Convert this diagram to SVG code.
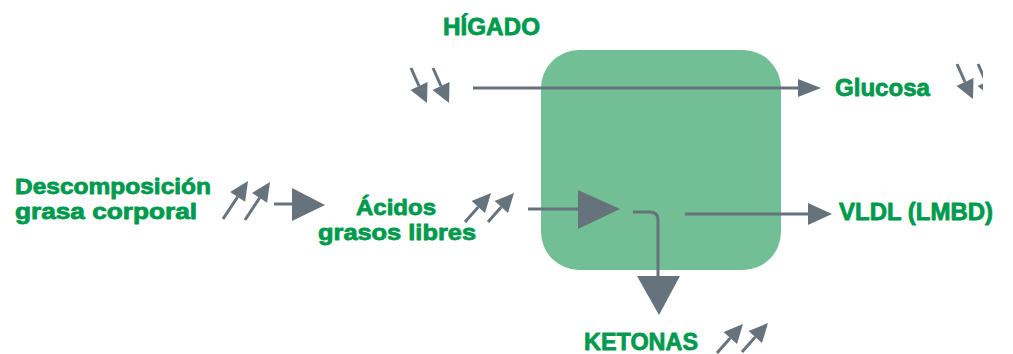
<svg xmlns="http://www.w3.org/2000/svg" width="1013" height="354" viewBox="0 0 1013 354">
<style>
.lbl{font-family:"Liberation Sans",Arial,sans-serif;font-weight:700;font-size:24px;fill:#009a4e;stroke:#009a4e;stroke-width:0.8;stroke-linejoin:round}
.two{font-size:21.5px}
.ln{stroke:#67737c;stroke-width:3;fill:none}
.hd{fill:#67737c;stroke:none}
.liver{fill:#73bf95}
</style>
<defs>
<g id="dn">
<line class="ln" x1="0" y1="0" x2="8" y2="18"/>
<polygon class="hd" points="-0.5,22 16.5,14 16,35"/>
</g>
<g id="upA">
<line class="ln" x1="0" y1="0" x2="14.6" y2="-22.1"/>
<polygon class="hd" points="7.1,-27 22.1,-17.2 25,-38"/>
</g>
<g id="upB">
<line class="ln" x1="0" y1="0" x2="13.3" y2="-14.9"/>
<polygon class="hd" points="6.6,-20.9 20,-8.9 26,-29"/>
</g>
<clipPath id="edge"><rect x="0" y="0" width="983" height="354"/></clipPath>
</defs>

<g id="higado">
<rect class="liver" x="541" y="50" width="240" height="220" rx="38"/>
<text class="lbl" x="443" y="35" textLength="97" lengthAdjust="spacingAndGlyphs">HÍGADO</text>
<use href="#dn" x="411" y="68"/>
<use href="#dn" x="433" y="68"/>
</g>

<g id="glucosa">
<text class="lbl" x="835" y="96" textLength="95" lengthAdjust="spacingAndGlyphs">Glucosa</text>
<g clip-path="url(#edge)">
<use href="#dn" x="957" y="64"/>
<use href="#dn" x="978" y="64"/>
</g>
</g>

<g id="descomposicion">
<text class="lbl two" x="15" y="194" textLength="196" lengthAdjust="spacingAndGlyphs">Descomposición</text>
<text class="lbl two" x="15" y="219" textLength="182" lengthAdjust="spacingAndGlyphs">grasa corporal</text>
<use href="#upA" x="223" y="219"/>
<use href="#upA" x="245" y="220"/>
</g>

<g id="acidos">
<text class="lbl two" x="356" y="215" textLength="80" lengthAdjust="spacingAndGlyphs">Ácidos</text>
<text class="lbl two" x="318" y="240" textLength="158" lengthAdjust="spacingAndGlyphs">grasos libres</text>
<use href="#upB" x="465" y="222"/>
<use href="#upB" x="488" y="222"/>
</g>

<g id="vldl">
<text class="lbl" x="839" y="220" textLength="154" lengthAdjust="spacingAndGlyphs">VLDL (LMBD)</text>
</g>

<g id="ketonas">
<text class="lbl" x="584" y="350" textLength="114" lengthAdjust="spacingAndGlyphs">KETONAS</text>
<use href="#upB" x="717" y="353"/>
<use href="#upB" x="742" y="352"/>
</g>

<g id="connectors">
<line class="ln" x1="473" y1="88" x2="800" y2="88"/>
<polygon class="hd" points="798,79 821,88 798,97"/>
<line class="ln" x1="274" y1="204" x2="294" y2="204"/>
<polygon class="hd" points="292,188 325,205 292,221"/>
<line class="ln" x1="528" y1="209" x2="579" y2="209"/>
<polygon class="hd" points="578,190 620,209 578,229"/>
<path class="ln" d="M633,212 H650 Q658,212 658,220 V278"/>
<polygon class="hd" points="637,276 680,276 659,315"/>
<line class="ln" x1="685" y1="214" x2="809" y2="214"/>
<polygon class="hd" points="808,203 832,214 808,225"/>
</g>
</svg>
